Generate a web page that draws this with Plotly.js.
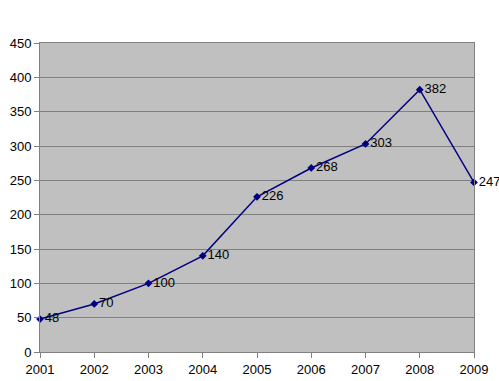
<!DOCTYPE html>
<html><head><meta charset="utf-8">
<script src="https://cdn.plot.ly/plotly-3.0.1.min.js"></script>
<style>html,body{margin:0;padding:0;background:#fff;}#chart{width:499px;height:381px;}</style>
</head><body><div id="chart"></div>
<script>
const years = [2001, 2002, 2003, 2004, 2005, 2006, 2007, 2008, 2009];
const values = [48, 70, 100, 140, 226, 268, 303, 382, 247];
const yTicks = [0, 50, 100, 150, 200, 250, 300, 350, 400, 450];

const trace = {
  x: years, y: values, type: 'scatter', mode: 'lines+markers+text',
  text: values.map(String), textposition: 'middle right',
  textfont: {family: 'Liberation Sans, Arial, sans-serif', size: 13, color: '#000'},
  line: {color: '#000080', width: 1.5},
  marker: {symbol: 'diamond', size: 6, color: '#000080'},
  cliponaxis: false, hoverinfo: 'none'
};
const layout = {
  width: 499, height: 381,
  margin: {l: 40, r: 25, t: 43, b: 29},
  paper_bgcolor: '#ffffff', plot_bgcolor: '#c0c0c0',
  showlegend: false,
  font: {family: 'Liberation Sans, Arial, sans-serif', size: 13, color: '#000'},
  xaxis: {range: [2001, 2009], tickvals: years, ticktext: years.map(String),
    showgrid: false, zeroline: false, showline: true, linecolor: '#808080', linewidth: 1,
    ticks: 'outside', ticklen: 5, tickcolor: '#808080', mirror: true,
    tickfont: {size: 13}},
  yaxis: {range: [0, 450], tickvals: yTicks, showgrid: true, gridcolor: '#808080', gridwidth: 1,
    zeroline: false, showline: true, linecolor: '#808080', linewidth: 1, mirror: true,
    ticks: 'outside', ticklen: 5, tickcolor: '#808080', tickfont: {size: 13}}
};
Plotly.newPlot('chart', [trace], layout, {staticPlot: true, displayModeBar: false});
</script></body></html>
